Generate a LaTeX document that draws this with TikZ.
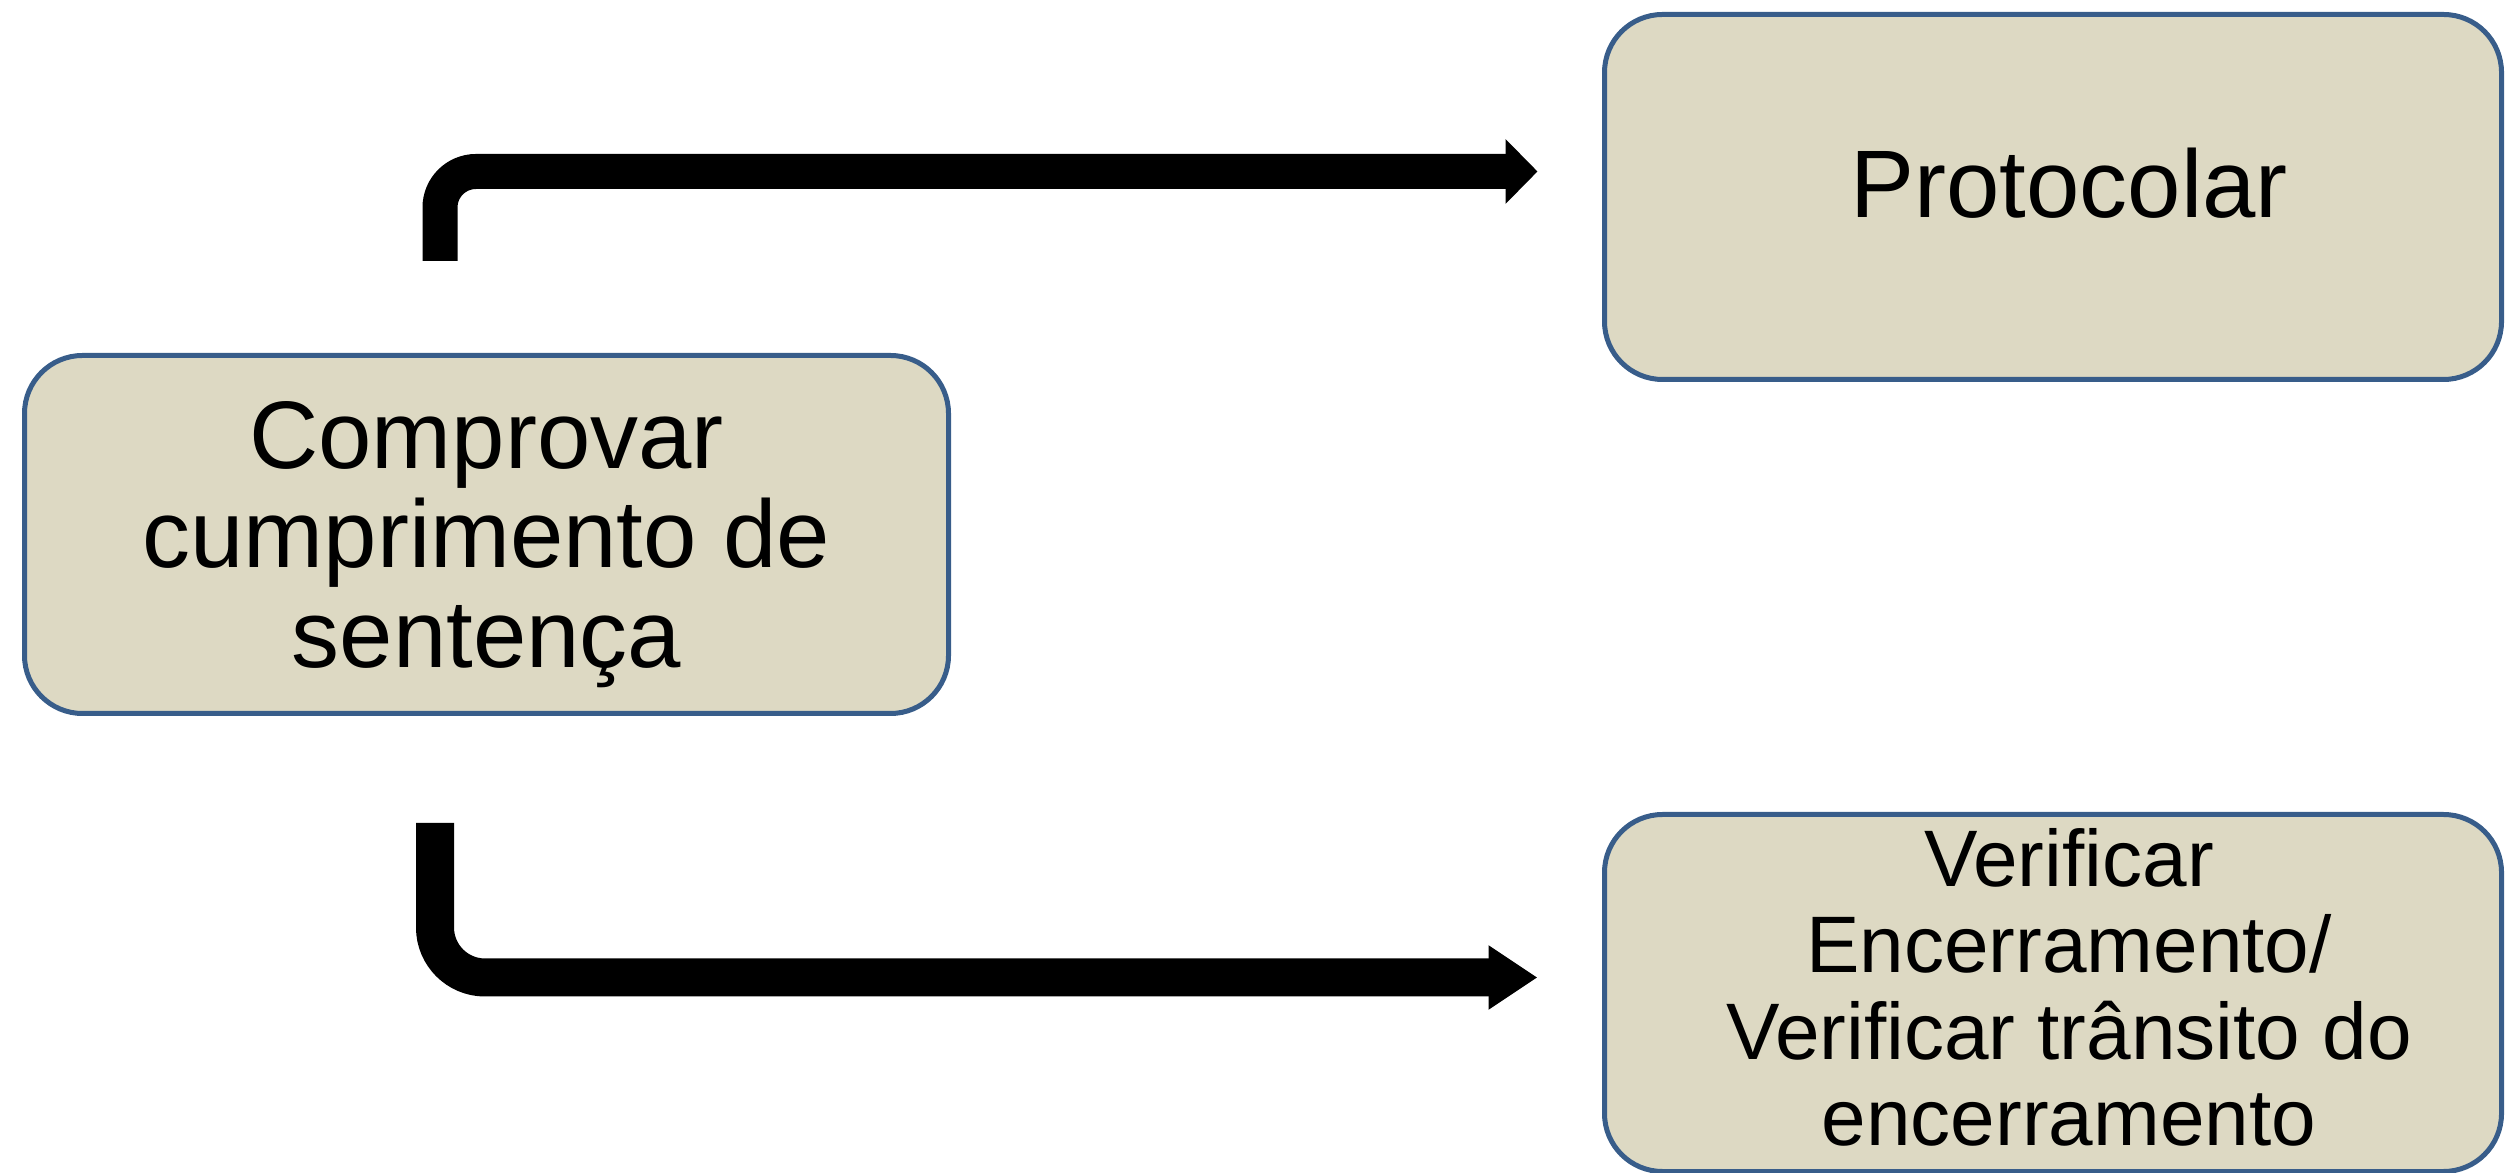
\documentclass[tikz,border=0pt]{standalone}
\usepackage{fontspec}
\setmainfont{Liberation Sans}
\usetikzlibrary{arrows.meta}
\definecolor{boxfill}{HTML}{DDD9C3}
\definecolor{boxline}{HTML}{385D8A}
\tikzset{
    stepbox/.style={draw=boxline, line width=0.05cm, fill=boxfill, rounded corners=0.58cm, align=center, inner sep=0pt},
    bigtext/.style={font=\fontsize{27.3}{28.45}\selectfont},
    smalltext/.style={font=\fontsize{22.8}{24.5}\selectfont, align=center, text depth=0pt},
    bentarrow/.style={line width=#1, draw=black},
}
\begin{document}
\begin{tikzpicture}
            \useasboundingbox (0,0) rectangle (25.06,11.72);
            \node[stepbox, bigtext, minimum width=9.24cm, minimum height=3.58cm, text depth=0pt] (comprovar) at (4.865,6.375) {Comprovar\\cumprimento de\\sentença};
            \node[stepbox, minimum width=8.97cm, minimum height=3.65cm, label={[bigtext, xshift=0.16cm, yshift=0.14cm]center:Protocolar}] (protocolar) at (20.53,9.75) {};
            \node[stepbox, minimum width=8.97cm, minimum height=3.57cm, label={[smalltext, xshift=0.16cm, yshift=0.06cm]center:Verificar\\Encerramento/\\Verificar trânsito do\\encerramento}] (verificar) at (20.53,1.79) {};
            \coordinate (upstart) at (4.40,9.11);
            \coordinate (upend) at (15.375,10.005);
            \coordinate (downstart) at (4.35,3.49);
            \coordinate (downend) at (15.375,1.945);
            \draw[bentarrow=0.35cm, rounded corners=0.36cm, -{Triangle[length=0.32cm, width=0.63cm]}] (upstart) |- (upend);
            \draw[bentarrow=0.38cm, rounded corners=0.5cm, -{Triangle[length=0.49cm, width=0.61cm]}] (downstart) |- (downend);
        \end{tikzpicture}
\end{document}
